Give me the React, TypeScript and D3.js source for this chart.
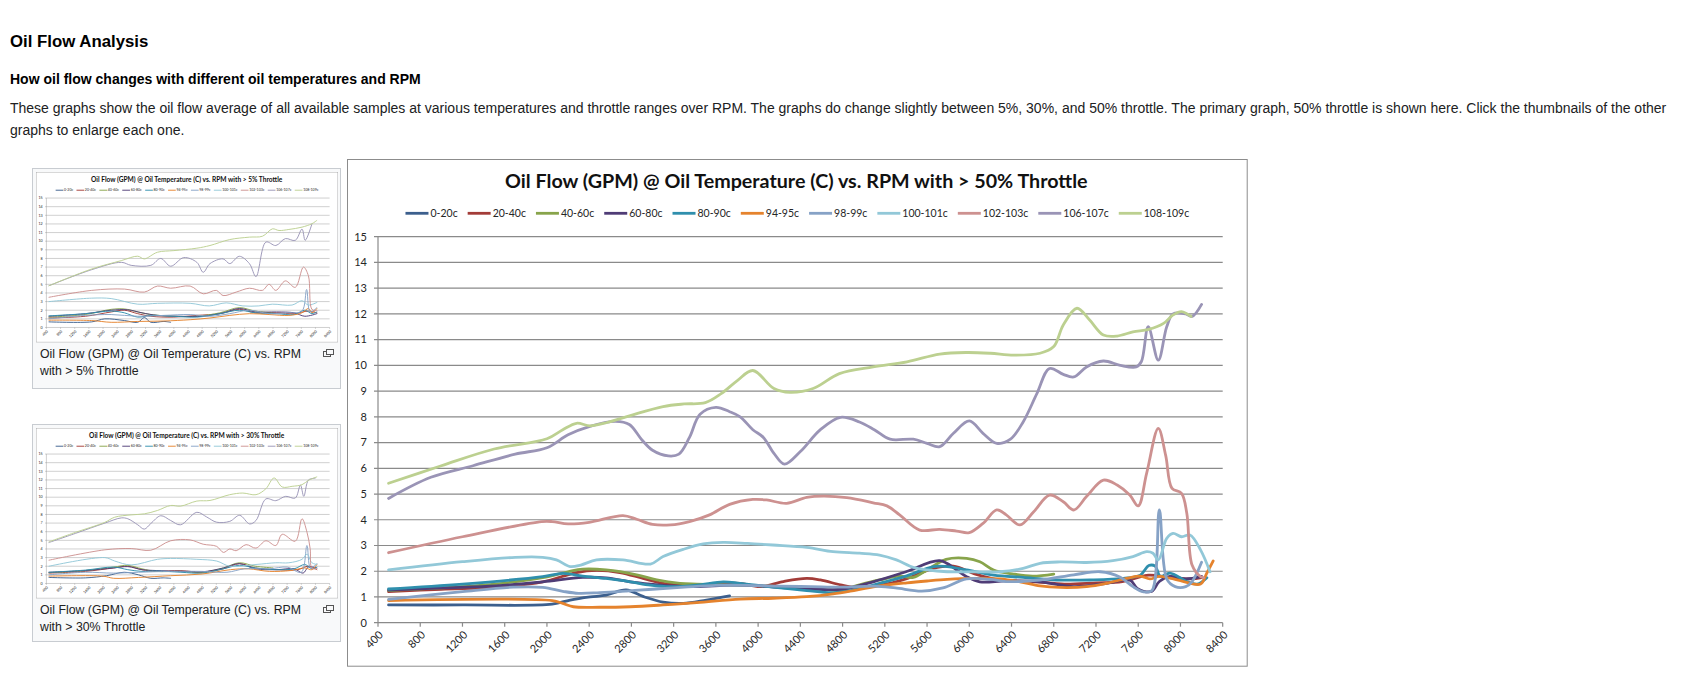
import { useEffect, useRef } from "react"
import * as d3 from "d3"

type Pt = [number, number]

const seriesNames = ["0-20c", "20-40c", "40-60c", "60-80c", "80-90c", "94-95c", "98-99c", "100-101c", "102-103c", "106-107c", "108-109c"]
const seriesColors = ["#3c5f8d", "#a33c38", "#88a44b", "#4f3c76", "#2f8fad", "#e5832d", "#86a2c6", "#92c8d8", "#cd9190", "#9a94b6", "#bcd090"]
const rpmTicks = [400, 800, 1200, 1600, 2000, 2400, 2800, 3200, 3600, 4000, 4400, 4800, 5200, 5600, 6000, 6400, 6800, 7200, 7600, 8000, 8400]
const flowTicks = [0, 1, 2, 3, 4, 5, 6, 7, 8, 9, 10, 11, 12, 13, 14, 15]

// ---- > 50% throttle (main graph) : [rpm, gpm]
const t50_0_20: Pt[] = [[500, 0.69], [1200, 0.69], [2050, 0.72], [2220, 0.88], [2410, 1.0], [2560, 1.07], [2750, 1.27], [2910, 1.02], [3100, 0.8], [3290, 0.75], [3510, 0.88], [3730, 1.04]]
const t50_20_40: Pt[] = [[500, 1.21], [1000, 1.3], [1520, 1.38], [1960, 1.59], [2280, 1.95], [2470, 2.03], [2690, 1.95], [2910, 1.72], [3100, 1.53], [3420, 1.46], [3670, 1.53], [3830, 1.53], [4020, 1.4], [4240, 1.6], [4460, 1.72], [4590, 1.66], [4780, 1.47], [4900, 1.38], [5150, 1.45], [5400, 1.7], [5650, 2.1], [5850, 2.2], [6050, 1.9], [6300, 1.65], [6600, 1.6], [6900, 1.5], [7200, 1.55], [7450, 1.6], [7700, 1.85], [7900, 1.75], [8100, 1.7], [8200, 1.75]]
const t50_40_60: Pt[] = [[500, 1.25], [1000, 1.35], [1500, 1.5], [1960, 1.75], [2200, 1.98], [2340, 2.08], [2560, 2.05], [2850, 1.86], [3040, 1.66], [3260, 1.53], [3420, 1.5], [3730, 1.46], [3950, 1.45], [4200, 1.4], [4500, 1.35], [4780, 1.27], [4960, 1.47], [5150, 1.66], [5340, 1.81], [5470, 1.76], [5600, 2.05], [5780, 2.46], [5975, 2.5], [6100, 2.37], [6230, 2.05], [6420, 1.89], [6600, 1.81], [6800, 1.89]]
const t50_60_80: Pt[] = [[500, 1.27], [1000, 1.35], [1520, 1.43], [1960, 1.59], [2340, 1.76], [2560, 1.74], [2790, 1.59], [2980, 1.5], [3170, 1.43], [3420, 1.4], [3730, 1.46], [3950, 1.45], [4250, 1.35], [4550, 1.3], [4800, 1.3], [5090, 1.59], [5400, 1.98], [5720, 2.41], [5880, 2.05], [5975, 1.79], [6100, 1.59], [6350, 1.63], [6670, 1.59], [6990, 1.4], [7300, 1.53], [7520, 1.66], [7590, 1.33], [7650, 1.22], [7730, 1.22], [7800, 1.6], [7900, 1.8], [8050, 1.7], [8200, 1.8]]
const t50_80_90: Pt[] = [[500, 1.31], [1200, 1.5], [1960, 1.79], [2150, 1.92], [2340, 1.81], [2560, 1.72], [2790, 1.59], [2980, 1.46], [3170, 1.4], [3420, 1.46], [3670, 1.59], [3830, 1.53], [4140, 1.38], [4460, 1.25], [4710, 1.17], [4900, 1.27], [5150, 1.53], [5400, 1.81], [5660, 2.18], [5790, 2.18], [5975, 2.05], [6230, 1.85], [6510, 1.76], [6830, 1.66], [7140, 1.66], [7460, 1.72], [7620, 1.85], [7700, 2.22], [7760, 2.2], [7810, 1.8], [7900, 1.93], [8060, 1.6], [8160, 1.5], [8250, 1.75]]
const t50_94_95: Pt[] = [[500, 0.86], [2050, 0.86], [2150, 0.75], [2250, 0.62], [2500, 0.6], [2790, 0.62], [3100, 0.69], [3420, 0.78], [3830, 0.92], [4140, 0.95], [4460, 1.01], [4710, 1.12], [4930, 1.27], [5150, 1.43], [5410, 1.55], [5600, 1.62], [5790, 1.68], [6040, 1.72], [6290, 1.7], [6480, 1.59], [6670, 1.43], [6860, 1.37], [7110, 1.4], [7300, 1.53], [7490, 1.72], [7620, 1.81], [7710, 1.7], [7800, 1.8], [7900, 1.73], [8030, 1.6], [8190, 1.5], [8250, 1.93], [8310, 2.4]]
const t50_98_99: Pt[] = [[500, 0.91], [1200, 1.21], [1680, 1.38], [1960, 1.37], [2150, 1.22], [2300, 1.14], [2500, 1.17], [2750, 1.23], [3000, 1.3], [3300, 1.38], [3600, 1.45], [3900, 1.45], [4200, 1.42], [4500, 1.4], [4800, 1.38], [5100, 1.42], [5300, 1.35], [5550, 1.23], [5750, 1.35], [5975, 1.7], [6200, 1.68], [6350, 1.6], [6670, 1.66], [6990, 1.86], [7240, 1.98], [7430, 1.77], [7550, 1.4], [7650, 1.2], [7730, 1.25], [7800, 4.38], [7870, 1.7], [7950, 1.4], [8050, 1.4], [8110, 1.6], [8200, 2.35]]
const t50_100_101: Pt[] = [[500, 2.05], [1200, 2.37], [1700, 2.54], [1960, 2.54], [2090, 2.44], [2220, 2.18], [2320, 2.24], [2470, 2.44], [2720, 2.44], [2980, 2.28], [3100, 2.57], [3290, 2.85], [3480, 3.06], [3670, 3.12], [3900, 3.08], [4140, 3.02], [4460, 2.93], [4710, 2.76], [4960, 2.7], [5150, 2.63], [5310, 2.44], [5470, 2.15], [5600, 2.05], [5790, 1.98], [6040, 1.98], [6290, 1.98], [6510, 2.11], [6670, 2.31], [6860, 2.36], [7110, 2.34], [7360, 2.41], [7550, 2.57], [7680, 2.76], [7740, 2.7], [7790, 2.44], [7870, 3.28], [7930, 3.47], [8010, 3.34], [8090, 3.41], [8190, 2.83], [8280, 1.98]]
const t50_102_103: Pt[] = [[500, 2.72], [1200, 3.34], [1950, 3.93], [2050, 3.93], [2200, 3.84], [2400, 3.9], [2720, 4.16], [2850, 4.02], [3000, 3.82], [3170, 3.8], [3350, 3.93], [3540, 4.19], [3730, 4.6], [3950, 4.79], [4080, 4.77], [4270, 4.64], [4460, 4.87], [4620, 4.92], [4840, 4.86], [5090, 4.66], [5220, 4.54], [5340, 4.19], [5530, 3.6], [5720, 3.63], [5880, 3.56], [6000, 3.5], [6130, 3.86], [6260, 4.38], [6350, 4.19], [6480, 3.8], [6610, 4.31], [6760, 4.96], [6890, 4.7], [6990, 4.38], [7110, 4.9], [7270, 5.54], [7400, 5.35], [7520, 4.96], [7600, 4.54], [7680, 5.81], [7790, 7.55], [7860, 6.5], [7920, 5.22], [8010, 5.03], [8060, 4.25], [8110, 2.24], [8190, 1.79], [8220, 1.75]]
const t50_106_107: Pt[] = [[500, 4.83], [900, 5.65], [1300, 6.1], [1700, 6.55], [2000, 6.8], [2200, 7.3], [2400, 7.62], [2650, 7.82], [2780, 7.7], [2900, 7.1], [3000, 6.7], [3150, 6.48], [3250, 6.55], [3350, 7.2], [3450, 8.1], [3600, 8.37], [3730, 8.2], [3830, 8.0], [3950, 7.5], [4050, 7.2], [4150, 6.58], [4250, 6.16], [4400, 6.65], [4590, 7.5], [4780, 7.98], [4960, 7.8], [5100, 7.5], [5250, 7.13], [5470, 7.13], [5600, 6.97], [5720, 6.84], [5850, 7.36], [6000, 7.84], [6130, 7.36], [6260, 6.97], [6390, 7.13], [6510, 7.8], [6640, 8.9], [6760, 9.88], [6890, 9.65], [6990, 9.55], [7110, 9.94], [7270, 10.17], [7430, 10.0], [7580, 9.94], [7630, 10.15], [7695, 11.5], [7790, 10.2], [7870, 11.5], [7930, 12.0], [8050, 12.0], [8110, 11.9], [8200, 12.37]]
const t50_108_109: Pt[] = [[500, 5.42], [1000, 6.1], [1500, 6.75], [2000, 7.15], [2150, 7.5], [2280, 7.75], [2410, 7.65], [2570, 7.78], [2790, 8.05], [3100, 8.4], [3300, 8.5], [3500, 8.55], [3650, 8.9], [3800, 9.4], [3950, 9.8], [4150, 9.1], [4300, 8.95], [4520, 9.1], [4770, 9.68], [5090, 9.94], [5410, 10.14], [5720, 10.44], [5975, 10.5], [6200, 10.47], [6420, 10.4], [6670, 10.47], [6800, 10.73], [6890, 11.57], [7020, 12.22], [7140, 11.76], [7270, 11.18], [7400, 11.14], [7550, 11.3], [7700, 11.4], [7840, 11.63], [7930, 11.96], [8010, 12.09], [8100, 11.9]]

// ---- > 5% throttle (first thumbnail)
const t5_0_20: Pt[] = [[474, 0.65], [1681, 0.65], [2050, 1.0], [2610, 0.8], [2980, 0.6], [3165, 1.15], [3350, 0.6], [3720, 0.7], [3910, 0.6]]
const t5_20_40: Pt[] = [[474, 1.1], [1500, 1.3], [2230, 1.8], [2600, 2.0], [2980, 1.6], [3350, 1.3], [4000, 1.2], [4650, 1.4], [5300, 1.6], [5850, 2.1], [6300, 1.7], [6900, 1.7], [7400, 1.6], [7800, 1.9], [8040, 1.7]]
const t5_40_60: Pt[] = [[474, 1.2], [1500, 1.5], [2230, 2.1], [2600, 2.15], [2980, 1.8], [3350, 1.5], [4000, 1.3], [4650, 1.3], [5300, 1.7], [5850, 2.3], [6300, 1.9], [6800, 1.7]]
const t5_60_80: Pt[] = [[474, 1.3], [1500, 1.6], [2230, 2.0], [2700, 2.05], [3100, 1.7], [3540, 1.4], [4200, 1.3], [4830, 1.3], [5400, 1.7], [5850, 2.2], [6300, 1.8], [6900, 1.8], [7400, 1.7], [7700, 1.3], [8040, 1.6]]
const t5_80_90: Pt[] = [[474, 1.35], [1500, 1.6], [2230, 1.9], [2600, 1.7], [2980, 1.2], [3350, 1.4], [4000, 1.3], [4650, 1.2], [5300, 1.6], [5850, 2.0], [6300, 1.7], [6900, 1.6], [7400, 1.5], [7700, 2.0], [7900, 1.6], [8040, 1.8]]
const t5_94_95: Pt[] = [[474, 0.85], [1681, 0.8], [2230, 0.6], [2980, 0.7], [3720, 0.75], [4460, 0.9], [5020, 1.1], [5580, 1.4], [6135, 1.6], [6690, 1.5], [7250, 1.4], [7620, 1.7], [7800, 2.2], [7900, 1.7], [8040, 2.2]]
const t5_98_99: Pt[] = [[474, 1.0], [1500, 1.4], [2230, 1.5], [2980, 1.3], [3720, 1.4], [4460, 1.5], [5020, 1.3], [5580, 1.6], [6135, 2.0], [6690, 1.6], [7250, 1.7], [7620, 1.9], [7750, 4.4], [7850, 1.8], [8040, 2.3]]
const t5_100_101: Pt[] = [[474, 3.0], [1681, 3.4], [2230, 3.35], [2980, 2.7], [3540, 2.8], [4460, 2.8], [5000, 2.5], [5480, 2.85], [5950, 2.5], [6400, 2.5], [6780, 2.7], [7340, 2.6], [7620, 3.1], [7800, 2.6], [8040, 2.9]]
const t5_102_103: Pt[] = [[474, 3.5], [1681, 4.3], [2610, 4.45], [3165, 4.1], [3537, 4.8], [3910, 4.55], [4460, 4.8], [4830, 3.9], [5200, 4.3], [5390, 3.7], [5760, 4.1], [6135, 4.55], [6500, 4.3], [6690, 5.0], [6880, 4.3], [7150, 5.4], [7430, 4.65], [7660, 7.0], [7800, 6.0], [7900, 2.1], [8040, 1.95]]
const t5_106_107: Pt[] = [[474, 4.84], [1681, 6.7], [2516, 7.55], [2795, 7.2], [3350, 7.2], [3630, 8.0], [3910, 7.1], [4280, 8.1], [4650, 7.55], [4830, 6.4], [5020, 7.4], [5390, 7.95], [5580, 7.4], [5850, 8.25], [6135, 7.4], [6320, 5.9], [6600, 9.9], [6880, 9.5], [7150, 10.3], [7430, 10.1], [7620, 11.4], [7710, 10.1], [7900, 12.0]]
const t5_108_109: Pt[] = [[474, 4.84], [1681, 6.78], [2516, 7.75], [2980, 8.26], [3165, 7.95], [3537, 8.72], [4001, 8.91], [4650, 9.19], [5021, 9.5], [5578, 10.19], [6135, 10.47], [6506, 10.58], [6785, 11.43], [6970, 11.24], [7249, 11.36], [7620, 11.63], [7898, 12.02], [8037, 12.4]]

// ---- > 30% throttle (second thumbnail)
const t30_0_20: Pt[] = [[474, 0.7], [1500, 0.65], [2100, 0.9], [2600, 1.3], [3000, 1.0], [3350, 0.6], [3700, 0.65], [3910, 0.6]]
const t30_20_40: Pt[] = [[474, 1.2], [1500, 1.4], [2300, 1.8], [2700, 2.0], [3100, 1.6], [3500, 1.4], [4200, 1.5], [4800, 1.3], [5400, 1.7], [5850, 2.3], [6300, 1.8], [6900, 1.6], [7500, 1.6], [7800, 2.0], [8040, 1.6]]
const t30_40_60: Pt[] = [[474, 1.25], [1500, 1.5], [2300, 1.9], [2700, 2.1], [3100, 1.7], [3500, 1.4], [4200, 1.4], [4800, 1.3], [5400, 1.8], [5850, 2.4], [6300, 2.0], [6800, 1.8]]
const t30_60_80: Pt[] = [[474, 1.3], [1500, 1.5], [2300, 1.8], [2700, 1.95], [3100, 1.6], [3500, 1.5], [4200, 1.4], [4800, 1.35], [5400, 1.8], [5850, 2.3], [6300, 1.7], [6900, 1.6], [7400, 1.7], [7650, 1.2], [7800, 1.9], [8040, 1.8]]
const t30_80_90: Pt[] = [[474, 1.3], [1500, 1.55], [2300, 1.9], [2700, 1.6], [3100, 1.4], [3500, 1.45], [4200, 1.3], [4800, 1.2], [5400, 1.7], [5850, 2.1], [6300, 1.8], [6900, 1.6], [7400, 1.7], [7700, 2.2], [7900, 1.7], [8040, 1.9]]
const t30_94_95: Pt[] = [[474, 0.85], [2000, 0.85], [2300, 0.6], [3000, 0.7], [3900, 0.9], [4800, 1.1], [5600, 1.6], [6100, 1.7], [6700, 1.4], [7300, 1.5], [7700, 1.8], [7900, 1.6], [8040, 2.2]]
const t30_98_99: Pt[] = [[474, 1.0], [1500, 1.3], [2300, 1.2], [3000, 1.3], [3900, 1.4], [4800, 1.4], [5500, 1.3], [6000, 1.7], [6700, 1.7], [7200, 1.9], [7600, 1.3], [7760, 4.4], [7860, 1.8], [8040, 2.3]]
const t30_100_101: Pt[] = [[474, 2.0], [2052, 3.0], [2330, 2.6], [2795, 2.15], [3537, 2.8], [3908, 2.9], [4650, 2.8], [5210, 2.6], [5580, 2.0], [6320, 2.2], [6880, 2.4], [7250, 2.4], [7620, 2.8], [7760, 3.4], [7900, 2.4], [8040, 2.2]]
const t30_102_103: Pt[] = [[474, 2.7], [2052, 3.9], [2795, 4.05], [3350, 3.85], [3910, 4.95], [4460, 5.05], [4830, 4.55], [5210, 4.3], [5400, 3.6], [5580, 4.0], [5760, 3.8], [6040, 4.5], [6320, 4.1], [6600, 4.95], [6880, 4.4], [7060, 5.7], [7430, 4.9], [7620, 7.5], [7760, 5.95], [7850, 4.05], [7900, 1.75], [8040, 1.7]]
const t30_106_107: Pt[] = [[474, 4.75], [1217, 5.8], [2052, 7.0], [2516, 7.6], [2700, 7.5], [2980, 6.8], [3165, 6.3], [3350, 6.95], [3630, 7.85], [3910, 7.3], [4186, 6.8], [4650, 8.25], [4930, 7.7], [5210, 7.1], [5580, 7.2], [5860, 7.9], [6140, 6.9], [6320, 7.3], [6600, 9.8], [6880, 9.6], [7160, 10.1], [7430, 9.9], [7575, 11.4], [7670, 10.1], [7805, 12.0], [7990, 12.2]]
const t30_108_109: Pt[] = [[474, 4.83], [1217, 5.92], [2052, 7.09], [2330, 7.68], [2794, 7.95], [3165, 8.07], [3537, 8.46], [3908, 9.04], [4186, 8.96], [4650, 9.55], [5021, 9.62], [5578, 10.29], [5949, 10.48], [6321, 10.29], [6600, 10.98], [6831, 12.23], [7063, 11.18], [7341, 11.26], [7620, 11.45], [7805, 11.96], [8037, 12.35]]

const throttle50 = [t50_0_20, t50_20_40, t50_40_60, t50_60_80, t50_80_90, t50_94_95, t50_98_99, t50_100_101, t50_102_103, t50_106_107, t50_108_109]
const throttle5 = [t5_0_20, t5_20_40, t5_40_60, t5_60_80, t5_80_90, t5_94_95, t5_98_99, t5_100_101, t5_102_103, t5_106_107, t5_108_109]
const throttle30 = [t30_0_20, t30_20_40, t30_40_60, t30_60_80, t30_80_90, t30_94_95, t30_98_99, t30_100_101, t30_102_103, t30_106_107, t30_108_109]

const chartFont = "Lato, 'Open Sans', sans-serif"
const pageFont = "'Liberation Sans', Arial, sans-serif"

// one Excel style chart, drawn in its own 900 x 508 box
function drawChart(parent: d3.Selection<SVGGElement, unknown, null, undefined>, title: string, data: Pt[][]) {
  const W = 900.7, H = 507.7
  const plot = { l: 31, r: 875.7, t: 77.7, b: 463.7 }

  parent.append("rect")
    .attr("x", 0.5).attr("y", 0.5)
    .attr("width", W - 1).attr("height", H - 1)
    .attr("fill", "#fff").attr("stroke", "#8c8c8c")

  const x = d3.scaleLinear().domain([400, 8400]).range([plot.l, plot.r])
  const y = d3.scaleLinear().domain([0, 15]).range([plot.b, plot.t])

  // gridlines + y tick marks
  parent.append("g").selectAll("line")
    .data(flowTicks.slice(1))
    .join("line")
    .attr("x1", plot.l - 4).attr("x2", plot.r)
    .attr("y1", d => y(d)).attr("y2", d => y(d))
    .attr("stroke", "#8a8a8a").attr("stroke-width", 1.2)

  // axes
  parent.append("line")
    .attr("x1", plot.l).attr("x2", plot.l).attr("y1", plot.t).attr("y2", plot.b)
    .attr("stroke", "#8a8a8a").attr("stroke-width", 1.2)
  parent.append("line")
    .attr("x1", plot.l - 4).attr("x2", plot.r).attr("y1", plot.b).attr("y2", plot.b)
    .attr("stroke", "#8a8a8a").attr("stroke-width", 1.2)
  parent.append("g").selectAll("line")
    .data(rpmTicks)
    .join("line")
    .attr("x1", d => x(d)).attr("x2", d => x(d))
    .attr("y1", plot.b).attr("y2", plot.b + 4)
    .attr("stroke", "#8a8a8a").attr("stroke-width", 1.2)

  // y labels
  parent.append("g").selectAll("text")
    .data(flowTicks)
    .join("text")
    .attr("x", plot.l - 11)
    .attr("y", d => y(d))
    .attr("dy", "0.35em")
    .attr("text-anchor", "end")
    .attr("font-family", chartFont)
    .attr("font-size", 11)
    .attr("fill", "#262626")
    .text(d => d)

  // x labels, rotated
  parent.append("g").selectAll("text")
    .data(rpmTicks)
    .join("text")
    .attr("transform", d => `translate(${x(d) + 3},${plot.b + 10}) rotate(-45)`)
    .attr("dy", "0.35em")
    .attr("text-anchor", "end")
    .attr("font-family", chartFont)
    .attr("font-size", 11)
    .attr("fill", "#262626")
    .text(d => d)

  // series
  const line = d3.line<Pt>()
    .x(d => x(d[0]))
    .y(d => y(d[1]))
    .curve(d3.curveCatmullRom.alpha(0.5))

  parent.append("g").selectAll("path")
    .data(data)
    .join("path")
    .attr("d", d => line(d))
    .attr("fill", "none")
    .attr("stroke", (d, i) => seriesColors[i])
    .attr("stroke-width", 2.8)
    .attr("stroke-linejoin", "round")
    .attr("stroke-linecap", "round")

  // title
  parent.append("text")
    .attr("x", W / 2 - 1)
    .attr("y", 22)
    .attr("dy", "0.35em")
    .attr("text-anchor", "middle")
    .attr("font-family", chartFont)
    .attr("font-weight", "bold")
    .attr("font-size", 19.7)
    .attr("fill", "#111")
    .text(title)

  // legend, laid out from measured text widths and centred
  const legend = parent.append("g")
  let cx = 0
  seriesNames.forEach((name, i) => {
    legend.append("line")
      .attr("x1", cx).attr("x2", cx + 23)
      .attr("y1", 0).attr("y2", 0)
      .attr("stroke", seriesColors[i]).attr("stroke-width", 2.8)
    const t = legend.append("text")
      .attr("x", cx + 25)
      .attr("y", 0)
      .attr("dy", "0.35em")
      .attr("font-family", chartFont)
      .attr("font-size", 10.5)
      .attr("fill", "#262626")
      .text(name)
    const w = (t.node() as SVGTextElement).getComputedTextLength()
    cx += 25 + w + 10
  })
  const legendW = cx - 10
  legend.attr("transform", `translate(${W / 2 - legendW / 2},54.3)`)
}

function drawThumb(svg: d3.Selection<SVGSVGElement, unknown, null, undefined>, top: number, h: number, title: string, data: Pt[][], caption: string[]) {
  svg.append("rect")
    .attr("x", 32.5).attr("y", top + 0.5)
    .attr("width", 308).attr("height", h)
    .attr("fill", "#f8f9fa").attr("stroke", "#c8ccd1")

  const g = svg.append("g")
    .attr("transform", `translate(36,${top + 4}) scale(0.3353)`)
  drawChart(g, title, data)

  caption.forEach((c, i) => {
    svg.append("text")
      .attr("x", 40)
      .attr("y", top + 190 + i * 17.2)
      .attr("font-family", pageFont)
      .attr("font-size", 12.3)
      .attr("fill", "#202122")
      .text(c)
  })

  // enlarge icon
  const ic = svg.append("g").attr("transform", `translate(323,${top + 181})`)
  ic.append("rect").attr("x", 0.5).attr("y", 2.5).attr("width", 7).attr("height", 5)
    .attr("fill", "none").attr("stroke", "#555")
  ic.append("rect").attr("x", 3.5).attr("y", 0.5).attr("width", 7).attr("height", 5)
    .attr("fill", "#f8f9fa").attr("stroke", "#555")
}

export default function App() {
  const svgRef = useRef<SVGSVGElement>(null)

  useEffect(() => {
    const svg = d3.select(svgRef.current as SVGSVGElement)
    svg.selectAll("*").remove()

    // page text
    svg.append("text")
      .attr("x", 10).attr("y", 47)
      .attr("font-family", pageFont).attr("font-weight", "bold").attr("font-size", 16.8)
      .attr("fill", "#000")
      .text("Oil Flow Analysis")
    svg.append("text")
      .attr("x", 10).attr("y", 83.5)
      .attr("font-family", pageFont).attr("font-weight", "bold").attr("font-size", 14)
      .attr("fill", "#000")
      .text("How oil flow changes with different oil temperatures and RPM")
    const para = [
      "These graphs show the oil flow average of all available samples at various temperatures and throttle ranges over RPM. The graphs do change slightly between 5%, 30%, and 50% throttle. The primary graph, 50% throttle is shown here. Click the thumbnails of the other",
      "graphs to enlarge each one.",
    ]
    para.forEach((p, i) => {
      svg.append("text")
        .attr("x", 10).attr("y", 112.5 + i * 22.4)
        .attr("font-family", pageFont).attr("font-size", 14)
        .attr("fill", "#202122")
        .text(p)
    })

    // thumbnails
    drawThumb(svg, 168, 220, "Oil Flow (GPM) @ Oil Temperature (C) vs. RPM with > 5% Throttle", throttle5,
      ["Oil Flow (GPM) @ Oil Temperature (C) vs. RPM", "with > 5% Throttle"])
    drawThumb(svg, 424, 217, "Oil Flow (GPM) @ Oil Temperature (C) vs. RPM with > 30% Throttle", throttle30,
      ["Oil Flow (GPM) @ Oil Temperature (C) vs. RPM", "with > 30% Throttle"])

    // main chart
    const main = svg.append("g").attr("transform", "translate(347,159)")
    drawChart(main, "Oil Flow (GPM) @ Oil Temperature (C) vs. RPM with > 50% Throttle", throttle50)
  }, [])

  return (
    <svg
      ref={svgRef}
      width={1683}
      height={675}
      style={{ position: "absolute", left: 0, top: 0, background: "#fff" }}
    />
  )
}
